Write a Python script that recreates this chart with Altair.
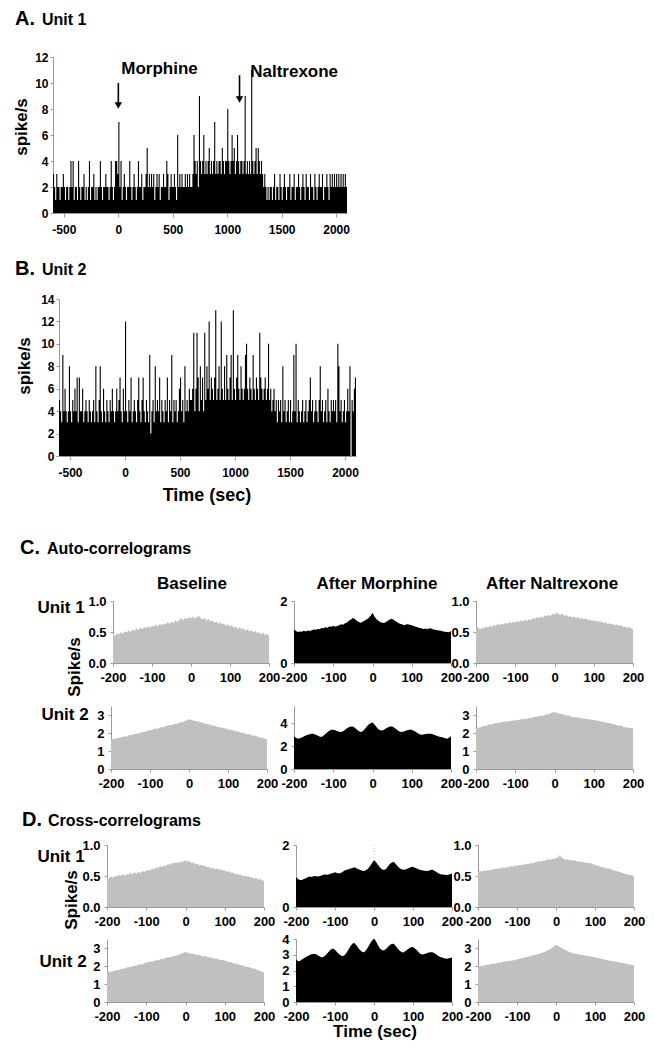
import altair as alt
import pandas as pd

F = "Liberation Sans"
GRAY = "#c0c0c0"
AXC = "#9a9a9a"

# ---------------- data ----------------
HIST_START = -600
HIST_END = 2100
HIST_BIN = 10
UNIT1_RATE = [
    3, 2, 1, 3, 2, 2, 1, 2, 2, 3,
    2, 1, 2, 2, 1, 2, 4, 2, 4, 1,
    2, 2, 1, 4, 2, 1, 2, 2, 3, 1,
    2, 1, 2, 4, 1, 2, 2, 3, 1, 2,
    1, 2, 2, 4, 2, 1, 2, 2, 3, 2,
    2, 1, 2, 4, 2, 1, 2, 4, 4, 3,
    7, 2, 4, 1, 2, 3, 2, 1, 2, 2,
    4, 2, 1, 2, 3, 2, 1, 2, 4, 2,
    2, 3, 1, 2, 2, 3, 5, 2, 3, 2,
    3, 2, 3, 1, 2, 3, 2, 3, 1, 2,
    2, 3, 2, 2, 4, 3, 1, 2, 3, 2,
    2, 3, 2, 1, 6, 2, 3, 2, 3, 2,
    2, 3, 2, 3, 2, 3, 2, 2, 3, 6,
    4, 3, 4, 2, 9, 4, 3, 4, 6, 3,
    4, 3, 4, 5, 3, 4, 3, 4, 7, 3,
    4, 3, 4, 4, 3, 5, 4, 3, 4, 4,
    8, 4, 3, 4, 6, 4, 5, 3, 4, 6,
    4, 3, 4, 4, 3, 4, 9, 3, 4, 3,
    4, 3, 11, 4, 3, 4, 5, 3, 5, 4,
    3, 4, 3, 2, 3, 2, 1, 2, 1, 2,
    2, 1, 2, 3, 1, 2, 2, 1, 3, 2,
    1, 2, 3, 2, 1, 2, 2, 3, 1, 2,
    2, 3, 1, 2, 2, 3, 2, 1, 2, 3,
    2, 1, 3, 2, 2, 1, 3, 2, 2, 1,
    3, 2, 1, 2, 3, 2, 2, 3, 1, 2,
    2, 3, 2, 1, 3, 2, 3, 2, 3, 2,
    3, 2, 3, 2, 3, 2, 3, 2, 3, 2,
]
UNIT2_RATE = [
    5, 4, 3, 9, 4, 6, 4, 3, 4, 8,
    4, 3, 5, 4, 6, 4, 7, 3, 7, 4,
    4, 6, 3, 4, 5, 4, 3, 5, 4, 3,
    4, 5, 3, 8, 4, 3, 5, 8, 4, 3,
    6, 4, 3, 5, 4, 3, 5, 4, 6, 4,
    3, 4, 6, 4, 5, 7, 4, 3, 6, 4,
    12, 4, 3, 5, 4, 7, 3, 4, 5, 4,
    3, 5, 7, 4, 3, 5, 7, 4, 3, 5,
    4, 3, 9, 2, 4, 5, 3, 8, 4, 5,
    4, 7, 3, 5, 4, 3, 5, 4, 7, 3,
    5, 4, 9, 3, 5, 4, 5, 3, 4, 6,
    7, 4, 5, 3, 8, 4, 5, 4, 6, 5,
    5, 6, 11, 4, 6, 11, 7, 4, 8, 5,
    7, 4, 11, 5, 8, 6, 12, 5, 7, 6,
    5, 7, 13, 5, 6, 8, 5, 12, 6, 5,
    8, 5, 9, 6, 5, 7, 9, 5, 13, 6,
    5, 7, 9, 6, 5, 8, 6, 5, 6, 9,
    10, 6, 5, 7, 6, 5, 9, 6, 5, 7,
    6, 5, 11, 7, 6, 5, 6, 7, 5, 6,
    10, 5, 6, 4, 5, 6, 4, 5, 3, 5,
    4, 5, 3, 8, 4, 5, 3, 4, 5, 3,
    5, 3, 4, 9, 4, 10, 3, 5, 4, 3,
    4, 5, 3, 4, 5, 3, 4, 5, 7, 4,
    5, 3, 4, 5, 4, 3, 5, 8, 4, 5,
    3, 4, 5, 3, 6, 4, 3, 5, 4, 5,
    4, 5, 3, 10, 8, 4, 5, 3, 4, 5,
    3, 4, 6, 4, 8, 0, 5, 4, 6, 7,
]
EVENT_NAMES = ["Morphine", "Naltrexone"]
EVENT_TIMES = [0, 1113]
EVENT_ARROW_TOP = [10.0, 10.6]
EVENT_ARROW_HEAD = [8.27, 8.73]
EVENT_LABEL_T = [27, 1211]
EVENT_LABEL_Y = [10.7, 10.46]
TIME_TICKS = [-500, 0, 500, 1000, 1500, 2000]

LAGS = list(range(-200, 201, 5))
LAG_TICKS = [-200, -100, 0, 100, 200]

AUTO_U1_BASE = [
    0.47, 0.43, 0.48, 0.46, 0.50, 0.47, 0.51, 0.49, 0.53, 0.50,
    0.54, 0.52, 0.56, 0.53, 0.57, 0.55, 0.58, 0.56, 0.59, 0.57,
    0.60, 0.58, 0.62, 0.59, 0.63, 0.61, 0.64, 0.62, 0.66, 0.63,
    0.67, 0.64, 0.69, 0.66, 0.70, 0.72, 0.69, 0.73, 0.71, 0.74,
    0.72, 0.75, 0.71, 0.74, 0.76, 0.72, 0.70, 0.73, 0.68, 0.71,
    0.67, 0.69, 0.65, 0.67, 0.63, 0.66, 0.62, 0.64, 0.60, 0.62,
    0.59, 0.61, 0.57, 0.59, 0.55, 0.58, 0.54, 0.56, 0.52, 0.55,
    0.51, 0.53, 0.49, 0.52, 0.48, 0.50, 0.46, 0.49, 0.45, 0.47,
    0.44,
]
AUTO_U1_MORPH = [
    1.09, 1.03, 1.00, 1.02, 1.01, 1.04, 1.02, 1.05, 1.03, 1.06,
    1.08, 1.07, 1.10, 1.09, 1.13, 1.12, 1.15, 1.14, 1.18, 1.17,
    1.20, 1.17, 1.19, 1.22, 1.25, 1.23, 1.28, 1.31, 1.36, 1.40,
    1.45, 1.42, 1.36, 1.32, 1.30, 1.33, 1.37, 1.40, 1.45, 1.52,
    1.62, 1.50, 1.42, 1.36, 1.32, 1.30, 1.29, 1.33, 1.37, 1.41,
    1.43, 1.38, 1.34, 1.30, 1.27, 1.25, 1.22, 1.24, 1.25, 1.23,
    1.22, 1.19, 1.17, 1.15, 1.13, 1.12, 1.10, 1.11, 1.09, 1.12,
    1.11, 1.08, 1.07, 1.06, 1.05, 1.04, 1.02, 1.01, 1.00, 0.99,
    1.03,
]
AUTO_U1_NALT = [
    0.55, 0.58, 0.54, 0.57, 0.56, 0.59, 0.57, 0.60, 0.58, 0.61,
    0.60, 0.63, 0.61, 0.64, 0.62, 0.65, 0.63, 0.66, 0.64, 0.67,
    0.65, 0.68, 0.66, 0.69, 0.67, 0.70, 0.68, 0.71, 0.69, 0.72,
    0.71, 0.74, 0.72, 0.75, 0.73, 0.77, 0.75, 0.78, 0.76, 0.80,
    0.78, 0.82, 0.79, 0.77, 0.80, 0.76, 0.78, 0.74, 0.76, 0.73,
    0.75, 0.72, 0.74, 0.71, 0.73, 0.70, 0.72, 0.69, 0.70, 0.68,
    0.69, 0.67, 0.68, 0.66, 0.67, 0.64, 0.66, 0.63, 0.64, 0.62,
    0.63, 0.61, 0.62, 0.60, 0.61, 0.58, 0.59, 0.57, 0.58, 0.56,
    0.55,
]
AUTO_U2_BASE = [
    1.62, 1.68, 1.66, 1.72, 1.74, 1.73, 1.79, 1.81, 1.80, 1.86,
    1.90, 1.89, 1.95, 1.97, 1.96, 2.02, 2.05, 2.04, 2.10, 2.13,
    2.17, 2.16, 2.22, 2.25, 2.24, 2.30, 2.33, 2.32, 2.38, 2.41,
    2.44, 2.43, 2.49, 2.52, 2.51, 2.57, 2.61, 2.60, 2.68, 2.72,
    2.76, 2.73, 2.70, 2.66, 2.67, 2.61, 2.58, 2.59, 2.53, 2.50,
    2.49, 2.44, 2.41, 2.42, 2.36, 2.33, 2.34, 2.28, 2.25, 2.26,
    2.20, 2.17, 2.18, 2.12, 2.09, 2.10, 2.04, 2.01, 2.02, 1.96,
    1.93, 1.94, 1.88, 1.85, 1.86, 1.80, 1.77, 1.74, 1.72, 1.68,
    1.64,
]
AUTO_U2_MORPH = [
    2.87, 2.72, 2.64, 2.68, 2.76, 2.84, 2.92, 2.98, 3.04, 3.08,
    3.08, 3.00, 2.92, 2.84, 2.80, 2.90, 3.05, 3.20, 3.35, 3.42,
    3.43, 3.38, 3.32, 3.26, 3.23, 3.30, 3.42, 3.55, 3.65, 3.70,
    3.71, 3.60, 3.45, 3.32, 3.23, 3.30, 3.48, 3.68, 3.88, 4.00,
    4.06, 3.88, 3.66, 3.48, 3.38, 3.36, 3.45, 3.56, 3.65, 3.70,
    3.71, 3.62, 3.50, 3.36, 3.25, 3.23, 3.28, 3.35, 3.40, 3.43,
    3.43, 3.35, 3.25, 3.12, 3.03, 3.00, 3.02, 3.05, 3.07, 3.08,
    3.08, 3.02, 2.95, 2.88, 2.82, 2.80, 2.74, 2.68, 2.64, 2.72,
    2.87,
]
AUTO_U2_NALT = [
    2.27, 2.31, 2.30, 2.36, 2.40, 2.39, 2.45, 2.48, 2.47, 2.52,
    2.55, 2.54, 2.58, 2.61, 2.60, 2.63, 2.66, 2.65, 2.68, 2.70,
    2.70, 2.73, 2.72, 2.76, 2.78, 2.77, 2.81, 2.84, 2.83, 2.88,
    2.90, 2.89, 2.94, 2.96, 2.95, 3.00, 3.04, 3.03, 3.10, 3.14,
    3.16, 3.13, 3.10, 3.05, 3.06, 3.00, 2.97, 2.98, 2.93, 2.90,
    2.89, 2.86, 2.87, 2.83, 2.81, 2.82, 2.78, 2.76, 2.77, 2.73,
    2.72, 2.69, 2.70, 2.65, 2.62, 2.63, 2.58, 2.55, 2.56, 2.51,
    2.48, 2.47, 2.42, 2.40, 2.41, 2.35, 2.32, 2.31, 2.28, 2.26,
    2.25,
]
CROSS_U1_BASE = [
    0.48, 0.46, 0.49, 0.47, 0.50, 0.49, 0.52, 0.50, 0.53, 0.51,
    0.53, 0.52, 0.55, 0.53, 0.56, 0.54, 0.57, 0.55, 0.58, 0.57,
    0.58, 0.60, 0.59, 0.62, 0.61, 0.64, 0.63, 0.66, 0.65, 0.67,
    0.66, 0.69, 0.68, 0.71, 0.70, 0.72, 0.71, 0.73, 0.72, 0.74,
    0.75, 0.73, 0.74, 0.71, 0.72, 0.69, 0.70, 0.67, 0.68, 0.66,
    0.67, 0.64, 0.65, 0.62, 0.63, 0.61, 0.62, 0.60, 0.61, 0.59,
    0.59, 0.57, 0.58, 0.55, 0.56, 0.53, 0.54, 0.52, 0.53, 0.50,
    0.51, 0.49, 0.50, 0.47, 0.48, 0.46, 0.47, 0.44, 0.45, 0.43,
    0.42,
]
CROSS_U1_MORPH = [
    0.97, 0.90, 0.87, 0.87, 0.90, 0.93, 0.96, 0.98, 0.97, 0.99,
    1.00, 0.98, 0.99, 1.02, 1.04, 1.05, 1.04, 1.06, 1.08, 1.10,
    1.12, 1.10, 1.08, 1.10, 1.14, 1.18, 1.20, 1.22, 1.24, 1.26,
    1.28, 1.25, 1.22, 1.19, 1.17, 1.16, 1.19, 1.24, 1.32, 1.42,
    1.51, 1.45, 1.36, 1.28, 1.22, 1.19, 1.22, 1.30, 1.38, 1.43,
    1.46, 1.40, 1.32, 1.26, 1.22, 1.20, 1.21, 1.23, 1.26, 1.29,
    1.30, 1.27, 1.24, 1.21, 1.19, 1.18, 1.17, 1.16, 1.17, 1.19,
    1.20, 1.17, 1.13, 1.09, 1.06, 1.05, 1.04, 1.03, 1.04, 1.06,
    1.08,
]
CROSS_U1_NALT = [
    0.56, 0.58, 0.57, 0.59, 0.58, 0.60, 0.59, 0.61, 0.60, 0.62,
    0.61, 0.63, 0.62, 0.64, 0.63, 0.65, 0.64, 0.66, 0.65, 0.67,
    0.66, 0.68, 0.67, 0.69, 0.68, 0.70, 0.69, 0.71, 0.70, 0.72,
    0.72, 0.74, 0.73, 0.75, 0.74, 0.76, 0.77, 0.76, 0.78, 0.77,
    0.79, 0.80, 0.84, 0.79, 0.78, 0.76, 0.77, 0.75, 0.76, 0.74,
    0.75, 0.73, 0.74, 0.72, 0.73, 0.71, 0.72, 0.70, 0.71, 0.69,
    0.68, 0.67, 0.66, 0.65, 0.64, 0.63, 0.62, 0.63, 0.61, 0.60,
    0.59, 0.58, 0.57, 0.56, 0.55, 0.54, 0.53, 0.52, 0.52, 0.51,
    0.50,
]
CROSS_U2_BASE = [
    1.62, 1.66, 1.70, 1.69, 1.75, 1.78, 1.77, 1.83, 1.86, 1.85,
    1.91, 1.94, 1.93, 1.99, 2.02, 2.01, 2.07, 2.10, 2.09, 2.15,
    2.20, 2.22, 2.25, 2.24, 2.29, 2.32, 2.31, 2.37, 2.40, 2.39,
    2.45, 2.48, 2.47, 2.53, 2.56, 2.55, 2.61, 2.64, 2.68, 2.73,
    2.78, 2.75, 2.71, 2.68, 2.69, 2.64, 2.61, 2.62, 2.57, 2.54,
    2.55, 2.50, 2.47, 2.48, 2.43, 2.40, 2.41, 2.36, 2.34, 2.35,
    2.31, 2.26, 2.22, 2.23, 2.17, 2.13, 2.14, 2.08, 2.04, 2.05,
    1.99, 1.95, 1.96, 1.90, 1.86, 1.87, 1.80, 1.76, 1.72, 1.68,
    1.63,
]
CROSS_U2_MORPH = [
    2.72, 2.58, 2.60, 2.70, 2.78, 2.85, 2.92, 2.98, 3.03, 3.05,
    3.05, 2.98, 2.90, 2.84, 2.86, 2.95, 3.08, 3.22, 3.35, 3.40,
    3.32, 3.18, 3.05, 2.95, 2.90, 2.98, 3.15, 3.35, 3.55, 3.72,
    3.75, 3.60, 3.42, 3.28, 3.18, 3.16, 3.30, 3.50, 3.72, 3.90,
    4.03, 3.85, 3.62, 3.42, 3.30, 3.27, 3.35, 3.48, 3.60, 3.68,
    3.70, 3.58, 3.42, 3.28, 3.18, 3.15, 3.22, 3.32, 3.42, 3.48,
    3.49, 3.40, 3.28, 3.15, 3.05, 3.02, 3.05, 3.10, 3.14, 3.16,
    3.16, 3.10, 3.02, 2.92, 2.85, 2.82, 2.78, 2.74, 2.76, 2.80,
    2.83,
]
CROSS_U2_NALT = [
    1.97, 2.00, 2.02, 2.01, 2.06, 2.08, 2.07, 2.12, 2.14, 2.13,
    2.18, 2.20, 2.19, 2.24, 2.26, 2.25, 2.29, 2.31, 2.30, 2.34,
    2.38, 2.40, 2.42, 2.45, 2.47, 2.50, 2.53, 2.55, 2.58, 2.61,
    2.64, 2.67, 2.70, 2.74, 2.78, 2.83, 2.88, 2.94, 3.02, 3.10,
    3.18, 3.12, 3.05, 2.98, 2.92, 2.87, 2.82, 2.78, 2.74, 2.71,
    2.68, 2.66, 2.64, 2.62, 2.60, 2.58, 2.56, 2.54, 2.52, 2.50,
    2.48, 2.46, 2.43, 2.41, 2.39, 2.36, 2.34, 2.31, 2.29, 2.27,
    2.25, 2.23, 2.21, 2.19, 2.17, 2.15, 2.12, 2.10, 2.08, 2.06,
    2.04,
]

# ---------------- helpers ----------------
ONE = [{"k": 0}]


def blank(w, h=1):
    return alt.Chart(alt.Data(values=ONE)).mark_point(opacity=0, size=1).encode(
        x=alt.value(0), y=alt.value(0)).properties(width=w, height=h)


def note(text, x, y, size, align="left", angle=0, baseline="alphabetic"):
    return alt.Chart(alt.Data(values=ONE)).mark_text(
        text=text, font=F, fontWeight="bold", fontSize=size, align=align,
        baseline=baseline, angle=angle, color="black").encode(
        x=alt.value(x), y=alt.value(y))


def axis(values, size, tick, pad, expr=None, fmt=None):
    kw = dict(values=values, title=None, labelFont=F, labelFontWeight="bold",
              labelFontSize=size, labelColor="black", labelFlush=False,
              labelOverlap=False, tickSize=tick, labelPadding=pad,
              domainColor=AXC, tickColor=AXC, grid=False)
    if expr is not None:
        kw["labelExpr"] = expr
    if fmt is not None:
        kw["format"] = fmt
    return alt.Axis(**kw)


def time_x(field):
    return alt.X(field, type="quantitative",
                 scale=alt.Scale(domain=[HIST_START, HIST_END], nice=False, zero=False),
                 axis=axis(TIME_TICKS, 12, 4, 7, expr="'' + datum.value"))


def rate_y(field, ymax, yvals):
    return alt.Y(field, type="quantitative",
                 scale=alt.Scale(domain=[0, ymax], nice=False),
                 axis=axis(yvals, 12, 3, 2, fmt="d"))


def hist(rates, ymax, yvals, w, h, extras):
    # step histogram: each bin starts at its time; last bin closed at HIST_END
    t = [HIST_START + HIST_BIN * i for i in range(len(rates))] + [HIST_END]
    df = pd.DataFrame({"t": t, "rate": list(rates) + [rates[-1]]})
    bars = alt.Chart(df).mark_area(color="black", interpolate="step-after",
                                   opacity=1).encode(
        x=time_x("t"), y=rate_y("rate", ymax, yvals))
    return alt.layer(bars, *extras).properties(width=w, height=h)


def corr(vals, ymax, yvals, yfmt, color, w, h, extras=(), zero_line=False):
    df = pd.DataFrame({"lag": LAGS, "rate": vals})
    xenc = alt.X("lag:Q", scale=alt.Scale(domain=[-200, 200], nice=False),
                 axis=axis(LAG_TICKS, 13, 3, 5, expr="'' + datum.value"))
    yenc = alt.Y("rate:Q", scale=alt.Scale(domain=[0, ymax], nice=False),
                 axis=axis(yvals, 13, 3, 4, fmt=yfmt))
    layers = []
    if zero_line:
        layers.append(alt.Chart(alt.Data(values=[{"lag": 0}])).mark_rule(
            color="#c4c4c4", strokeDash=[1, 2], strokeWidth=1).encode(x=xenc))
    layers.append(alt.Chart(df).mark_area(color=color, opacity=1).encode(x=xenc, y=yenc))
    layers.extend(extras)
    return alt.layer(*layers).properties(width=w, height=h)


def row(items):
    parts = []
    for gap, ch in items:
        parts.append(blank(gap))
        parts.append(ch)
    return alt.hconcat(*parts, spacing=0, bounds="flush")


# ---------------- panel A ----------------
ev = pd.DataFrame({"t": EVENT_TIMES, "top": EVENT_ARROW_TOP, "head": EVENT_ARROW_HEAD,
                   "lt": EVENT_LABEL_T, "ly": EVENT_LABEL_Y, "name": EVENT_NAMES})
YA = [0, 2, 4, 6, 8, 10, 12]
shaft = alt.Chart(ev).mark_rule(color="black", strokeWidth=1.6).encode(
    x=time_x("t"), y=rate_y("top", 12, YA), y2="head:Q")
head = alt.Chart(ev).mark_point(shape="triangle-down", filled=True, color="black",
                                size=55, opacity=1).encode(
    x=time_x("t"), y=rate_y("head", 12, YA))
evtext = alt.Chart(ev).mark_text(align="left", baseline="alphabetic", font=F,
                                 fontWeight="bold", fontSize=17, color="black").encode(
    x=time_x("lt"), y=rate_y("ly", 12, YA), text="name:N")

chartA = hist(UNIT1_RATE, 12, YA, 294, 156, [
    shaft, head, evtext,
    note("A.", -38, -32, 20), note("Unit 1", -11, -32, 16),
    note("spike/s", -31, 70, 17, align="center", angle=270, baseline="middle"),
])

chartB = hist(UNIT2_RATE, 14, [0, 2, 4, 6, 8, 10, 12, 14], 297, 157, [
    note("B.", -44, -24, 20), note("Unit 2", -17, -24, 16),
    note("spike/s", -34, 67, 17, align="center", angle=270, baseline="middle"),
    note("Time (sec)", 148, 202, 18, align="center"),
])

# ---------------- panel C ----------------
c1b = corr(AUTO_U1_BASE, 1.0, [0, 0.5, 1.0], ".1f", GRAY, 156, 62, [
    note("C.", -93, -47, 20), note("Auto-correlograms", -66, -47, 16),
    note("Baseline", 79, -12, 17, align="center"),
    note("Unit 1", -52, 12, 17, align="center"),
    note("Spike/s", -38, 66, 17, align="center", angle=270, baseline="middle"),
])
c1m = corr(AUTO_U1_MORPH, 2, [0, 1, 2], "d", "black", 157, 62, [
    note("After Morphine", 83, -12, 17, align="center"),
])
c1n = corr(AUTO_U1_NALT, 1.0, [0, 0.5, 1.0], ".1f", GRAY, 157, 62, [
    note("After Naltrexone", 76, -12, 17, align="center"),
])
c2b = corr(AUTO_U2_BASE, 3.5, [0, 1, 2, 3], "d", GRAY, 156, 63, [
    note("Unit 2", -46, 14, 17, align="center"),
])
c2m = corr(AUTO_U2_MORPH, 5.5, [0, 2, 4], "d", "black", 157, 63)
c2n = corr(AUTO_U2_NALT, 3.5, [0, 1, 2, 3], "d", GRAY, 157, 63)

# ---------------- panel D ----------------
d1b = corr(CROSS_U1_BASE, 1.0, [0, 0.5, 1.0], ".1f", GRAY, 157, 62, [
    note("D.", -85, -19, 20), note("Cross-correlograms", -59, -19, 16),
    note("Unit 1", -46, 17, 17, align="center"),
    note("Spike/s", -35, 55, 17, align="center", angle=270, baseline="middle"),
])
d1m = corr(CROSS_U1_MORPH, 2, [0, 1, 2], "d", "black", 156, 62, zero_line=True)
d1n = corr(CROSS_U1_NALT, 1.0, [0, 0.5, 1.0], ".1f", GRAY, 156, 62)
d2b = corr(CROSS_U2_BASE, 3.5, [0, 1, 2, 3], "d", GRAY, 157, 63, [
    note("Unit 2", -44, 28, 17, align="center"),
])
d2m = corr(CROSS_U2_MORPH, 4, [0, 1, 2, 3, 4], "d", "black", 156, 63, [
    note("Time (sec)", 79, 98, 17, align="center"),
], zero_line=True)
d2n = corr(CROSS_U2_NALT, 3.5, [0, 1, 2, 3], "d", GRAY, 156, 63)

# ---------------- layout ----------------
rowA = row([(23, chartA)])
rowB = row([(29, chartB)])
rowC1 = row([(83, c1b), (25, c1m), (25, c1n)])
rowC2 = row([(81, c2b), (27, c2m), (25, c2n)])
rowD1 = row([(77, d1b), (32, d1m), (26, d1n)])
rowD2 = row([(77, d2b), (32, d2m), (26, d2n)])

chart = alt.vconcat(
    rowA, blank(1, 242), rowB, blank(1, 302), rowC1, blank(1, 105), rowC2,
    blank(1, 139), rowD1, blank(1, 94), rowD2,
    spacing=0, bounds="flush",
).properties(
    padding={"left": 5, "top": 1, "right": 0, "bottom": 0},
).configure_view(strokeWidth=0)

chart.save("out.html", embed_options={"renderer": "svg", "actions": False})
